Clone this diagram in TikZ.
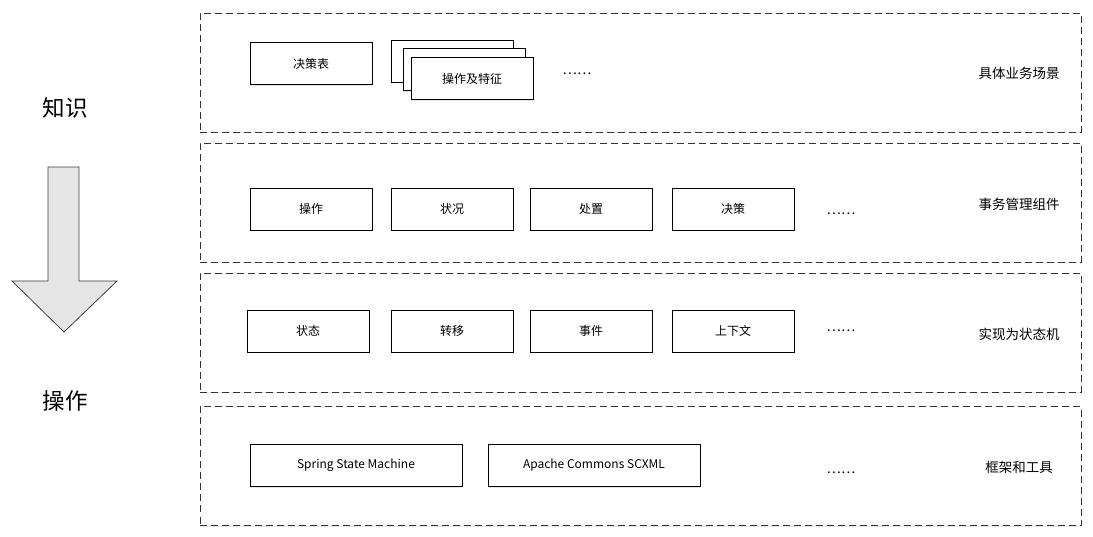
\documentclass[tikz,border=0pt]{standalone}
\usepackage{fontspec}
\setmainfont{Noto Sans CJK SC}
\usetikzlibrary{shadows}
\tikzset{
    layer/.style={draw=black!80, fill=white, dash pattern=on 7pt off 4pt, line width=0.8pt,
        minimum width=881pt, minimum height=119pt, inner sep=0pt,
        drop shadow={shadow xshift=0pt, shadow yshift=-1.5pt, opacity=0.2}},
    item/.style={draw, fill=white, line width=0.8pt, minimum width=122pt, minimum height=42pt,
        inner sep=0pt, font=\fontsize{12}{14}\selectfont,
        drop shadow={shadow xshift=0pt, shadow yshift=-1.5pt, opacity=0.2}},
    wide/.style={item, minimum width=212pt},
    dots/.style={font=\fontsize{13.5}{15}\selectfont},
    side/.style={font=\fontsize{13.5}{16}\selectfont},
    big/.style={font=\fontsize{22.5}{26}\selectfont}
}
\begin{document}
\begin{tikzpicture}[x=1pt, y=-1pt]
        \useasboundingbox (0,0) rectangle (1093,537);
        % Layers
        \node[layer] (scene) at (640.5,72.5) {};
        \node[layer] (comp) at (640.5,202.5) {};
        \node[layer] (fsm) at (640.5,332.5) {};
        \node[layer] (tool) at (640.5,466) {};
        % Scene row
        \node[item] (table) at (311,63.5) {决策表};
        \node[item] (opA) at (452,61) {};
        \node[item] (opB) at (464.5,69.5) {};
        \node[item] (opC) at (472,78.5) {操作及特征};
        \node[dots] (dotsA) at (577,73.5) {……};
        % Component row
        \node[item] (op) at (311,209) {操作};
        \node[item] (cond) at (452,209) {状况};
        \node[item] (act) at (591,209) {处置};
        \node[item] (dec) at (733,209) {决策};
        \node[dots] (dotsB) at (841,213.5) {……};
        % State machine row
        \node[item] (state) at (308,331) {状态};
        \node[item] (trans) at (452,331) {转移};
        \node[item] (event) at (591,331) {事件};
        \node[item] (ctx) at (733,331) {上下文};
        \node[dots] (dotsC) at (841,330.5) {……};
        % Tool row
        \node[wide] (ssm) at (356,465) {Spring State Machine};
        \node[wide] (scxml) at (594,465) {Apache Commons SCXML};
        \node[dots] (dotsD) at (841,472.5) {……};
        % Labels
        \node[side] (lblA) at (1019,73) {具体业务场景};
        \node[side] (lblB) at (1019,204) {事务管理组件};
        \node[side] (lblC) at (1019,334) {实现为状态机};
        \node[side] (lblD) at (1019,467) {框架和工具};
        % Arrow
        \node[big] (know) at (65,108) {知识};
        \node[big] (oper) at (65,401) {操作};
        \draw[draw=black!75, fill=black!10, line width=0.8pt]
            (48,167) -- (79,167) -- (79,281) -- (117,281) -- (64,332) -- (12,281) -- (48,281) -- cycle;
\end{tikzpicture}
\end{document}
